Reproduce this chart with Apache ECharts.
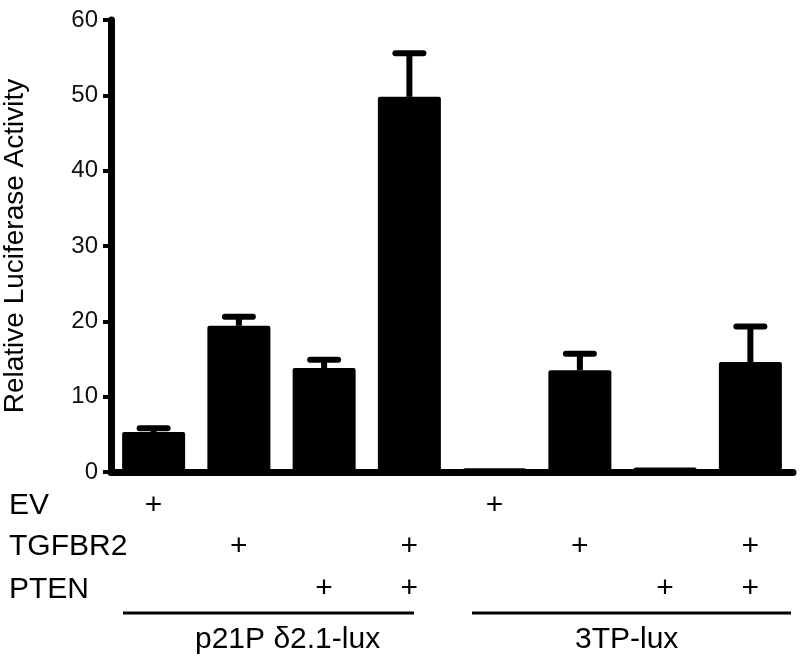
<!DOCTYPE html>
<html>
<head>
<meta charset="utf-8">
<script src="https://cdn.jsdelivr.net/npm/echarts@6/dist/echarts.min.js"></script>
<style>
html,body{margin:0;padding:0;background:#fff;}
#main{width:800px;height:660px;}
</style>
</head>
<body>
<div id="main"></div>
<script>
// bars: p21P d2.1-lux (4) then 3TP-lux (4)
var categories=['p21 EV','p21 TGFBR2','p21 PTEN','p21 TGFBR2+PTEN','3TP EV','3TP TGFBR2','3TP PTEN','3TP TGFBR2+PTEN'];
var meanValues=[5.3,19.4,13.8,49.8,0.5,13.5,0.6,14.6];
var upperValues=[5.8,20.6,14.9,55.6,0.5,15.7,0.6,19.3];
var evRow=['+','','','','+','','',''];
var tgfbr2Row=['','+','','+','','+','','+'];
var ptenRow=['','','+','+','','','+','+'];
var rowNames=['EV','TGFBR2','PTEN'];
var groupNames=['p21P δ2.1-lux','3TP-lux'];
var yMin=0, yMax=60, yStep=10;

var sans='"Liberation Sans",Arial,sans-serif';

function plusAxis(rowData,offset){
    return {
        type:'category',
        data:rowData,
        position:'bottom',
        offset:offset,
        axisLine:{show:false},
        axisTick:{show:false},
        axisLabel:{interval:0,margin:0,verticalAlign:'middle',fontFamily:sans,fontSize:30,color:'#000'}
    };
}

var errorData=[];
for(var i=0;i<categories.length;i++){
    errorData.push([i,meanValues[i],upperValues[i]]);
}

var myChart=echarts.init(document.getElementById('main'));
var option={
    animation:false,
    backgroundColor:'#fff',
    grid:{left:111,right:7,top:20,bottom:188,containLabel:false,outerBoundsMode:'none'},
    xAxis:[
        {
            type:'category',
            data:categories,
            axisLine:{lineStyle:{color:'#000',width:7}},
            axisTick:{show:false},
            axisLabel:{show:false}
        },
        plusAxis(evRow,34),
        plusAxis(tgfbr2Row,75),
        plusAxis(ptenRow,117)
    ],
    yAxis:{
        type:'value',
        min:yMin,
        max:yMax,
        interval:yStep,
        name:'Relative Luciferase Activity',
        nameLocation:'middle',
        nameGap:82,
        nameTextStyle:{fontFamily:sans,fontSize:28,color:'#000'},
        axisLine:{show:true,lineStyle:{color:'#000',width:7}},
        axisTick:{show:true,length:8,lineStyle:{color:'#000',width:4}},
        axisLabel:{margin:13,fontFamily:sans,fontSize:24,color:'#111'},
        splitLine:{show:false}
    },
    series:[
        {
            type:'bar',
            data:meanValues,
            barWidth:63,
            itemStyle:{color:'#000',borderRadius:2}
        },
        {
            type:'custom',
            data:errorData,
            z:1,
            renderItem:function(params,api){
                var base=api.coord([api.value(0),api.value(1)]);
                var top=api.coord([api.value(0),api.value(2)]);
                if(base[1]-top[1]<1) return null;
                var half=14;
                return {type:'group',children:[
                    {type:'line',shape:{x1:base[0],y1:base[1],x2:top[0],y2:top[1]},style:{stroke:'#000',lineWidth:6}},
                    {type:'line',shape:{x1:top[0]-half,y1:top[1],x2:top[0]+half,y2:top[1]},style:{stroke:'#000',lineWidth:6,lineCap:'round'}}
                ]};
            }
        }
    ],
    graphic:[
        {type:'text',x:9,y:506,style:{text:rowNames[0],font:'30px '+sans,fill:'#000',verticalAlign:'middle'}},
        {type:'text',x:9,y:547,style:{text:rowNames[1],font:'30px '+sans,fill:'#000',verticalAlign:'middle'}},
        {type:'text',x:9,y:590,style:{text:rowNames[2],font:'30px '+sans,fill:'#000',verticalAlign:'middle'}},
        {type:'line',shape:{x1:123,y1:613,x2:414,y2:613},style:{stroke:'#000',lineWidth:3}},
        {type:'line',shape:{x1:472,y1:613,x2:791,y2:613},style:{stroke:'#000',lineWidth:3}},
        {type:'text',x:195,y:640,style:{text:groupNames[0],font:'30px '+sans,fill:'#000',verticalAlign:'middle'}},
        {type:'text',x:575,y:640,style:{text:groupNames[1],font:'30px '+sans,fill:'#000',verticalAlign:'middle'}}
    ]
};
myChart.setOption(option);
</script>
</body>
</html>
